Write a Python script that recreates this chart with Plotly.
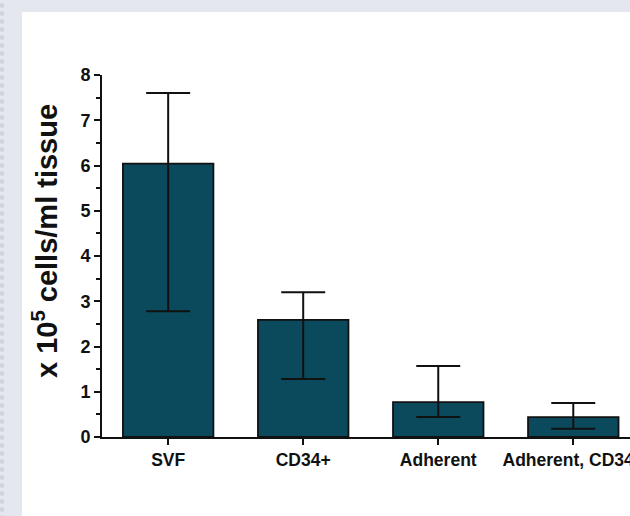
import plotly.graph_objects as go

categories = ["SVF", "CD34+", "Adherent", "Adherent, CD34+"]
means = [6.04, 2.59, 0.77, 0.44]
upper = [7.60, 3.20, 1.57, 0.75]
lower = [2.78, 1.28, 0.44, 0.18]

err_plus = [u - m for u, m in zip(upper, means)]
err_minus = [m - l for m, l in zip(means, lower)]

PLOT_L, PLOT_T, PLOT_B = 102, 75, 437
PW, PH = 630 - PLOT_L, PLOT_B - PLOT_T

fig = go.Figure()
fig.add_trace(go.Bar(
    x=categories, y=means,
    marker=dict(color="#0b4a5c", line=dict(color="#111111", width=1.8)),
    width=0.67,
    error_y=dict(type="data", symmetric=False, array=err_plus, arrayminus=err_minus,
                 color="#111111", thickness=2, width=22),
))

fig.update_layout(
    width=630, height=516,
    paper_bgcolor="#e4e7ee",
    plot_bgcolor="rgba(0,0,0,0)",
    margin=dict(l=PLOT_L, r=0, t=PLOT_T, b=516 - PLOT_B, autoexpand=False),
    showlegend=False,
    font=dict(family="Liberation Sans, Arial, sans-serif", color="#111111"),
    shapes=[
        dict(type="rect", xref="paper", yref="paper", x0=(22 - PLOT_L) / PW, x1=1.1,
             y0=-0.3, y1=1 + (PLOT_T - 12) / PH,
             fillcolor="white", line=dict(width=0), layer="below"),
        dict(type="line", xref="paper", yref="paper", x0=(2 - PLOT_L) / PW, x1=(2 - PLOT_L) / PW,
             y0=-0.25, y1=1.2,
             line=dict(color="#cbd5da", width=4, dash="dot"), layer="below"),
    ],
    annotations=[
        dict(text="x 10<sup>5</sup> cells/ml tissue", xref="paper", yref="paper",
             x=(45 - PLOT_L) / PW, y=(PLOT_B - 241) / PH, xanchor="center", yanchor="middle",
             textangle=-90, showarrow=False,
             font=dict(size=29, family="Liberation Sans, Arial", color="#111111", weight="bold")),
    ],
)

fig.update_xaxes(
    range=[-0.49, 3.42], showline=True, linecolor="#111111", linewidth=2,
    ticks="outside", ticklen=6, tickwidth=2, tickcolor="#111111",
    tickfont=dict(size=17.5, family="Liberation Sans, Arial", color="#111111", weight="bold"),
    showgrid=False, automargin=False, fixedrange=True,
)
fig.update_yaxes(
    range=[0, 8], dtick=1, showline=True, linecolor="#111111", linewidth=2,
    ticks="outside", ticklen=6, tickwidth=2, tickcolor="#111111",
    minor=dict(dtick=0.5, ticks="outside", ticklen=4, tickwidth=2, tickcolor="#111111"),
    tickfont=dict(size=18, family="Liberation Sans, Arial", color="#111111", weight="bold"),
    showgrid=False, zeroline=False, automargin=False,
)

fig.write_html("out.html", config={"displayModeBar": False},
               post_script="document.body.style.margin='0';")
